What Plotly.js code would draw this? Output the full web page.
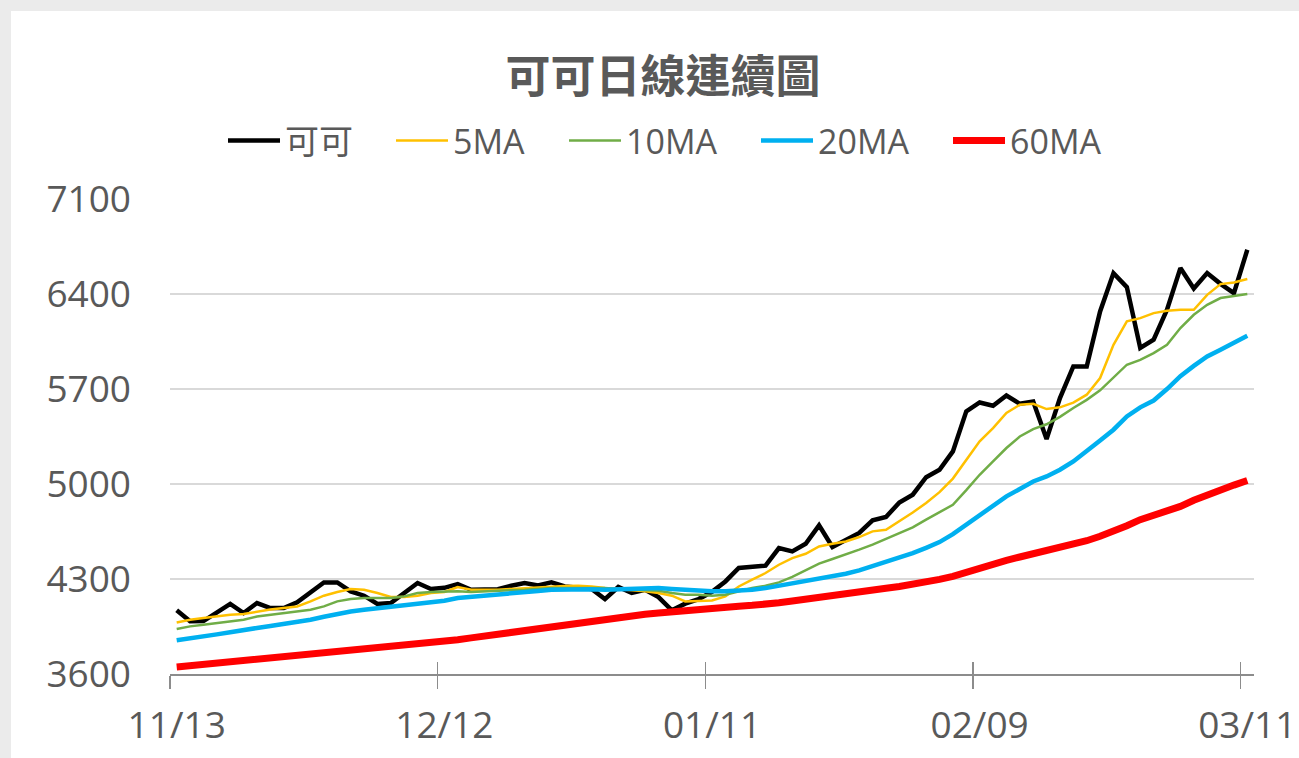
<!DOCTYPE html>
<html>
<head>
<meta charset="utf-8">
<script src="https://cdn.plot.ly/plotly-3.0.1.min.js"></script>
<style>
  html, body { margin: 0; padding: 0; background: #ebebeb; }
  #chart { position: absolute; left: 11px; top: 11px; width: 1288px; height: 747px; background: #ffffff; }
</style>
</head>
<body>
<div id="chart"></div>
<script>
// Trading days (categories)
const dates = [
  '11/13','11/14','11/15','11/16','11/17',
  '11/20','11/21','11/22','11/24',
  '11/27','11/28','11/29','11/30','12/01',
  '12/04','12/05','12/06','12/07','12/08',
  '12/11','12/12','12/13','12/14','12/15',
  '12/18','12/19','12/20','12/21','12/22',
  '12/26','12/27','12/28','12/29',
  '01/02','01/03','01/04','01/05',
  '01/08','01/09','01/10','01/11','01/12',
  '01/16','01/17','01/18','01/19',
  '01/22','01/23','01/24','01/25','01/26',
  '01/29','01/30','01/31','02/01','02/02',
  '02/05','02/06','02/07','02/08','02/09',
  '02/12','02/13','02/14','02/15','02/16',
  '02/20','02/21','02/22','02/23',
  '02/26','02/27','02/28','02/29','03/01',
  '03/04','03/05','03/06','03/07','03/08',
  '03/11'
];

const cocoa = [
  4069,3988,3990,4049,4116,4049,4123,4086,4086,4128,
  4201,4275,4275,4209,4177,4116,4123,4197,4270,4226,
  4235,4263,4221,4223,4225,4250,4270,4253,4275,4245,
  4238,4226,4152,4241,4197,4221,4167,4069,4118,4152,
  4205,4282,4381,4388,4398,4528,4503,4560,4695,4536,
  4584,4639,4732,4757,4864,4921,5050,5105,5240,5535,
  5601,5577,5652,5591,5608,5331,5633,5866,5866,6271,
  6554,6451,6002,6063,6284,6591,6440,6554,6475,6407,
  6726
];

const ma5 = [
  3980,4000,4012,4025,4037,4042,4061,4075,4086,4098,
  4135,4177,4204,4226,4221,4197,4167,4167,4177,4197,
  4204,4241,4221,4221,4221,4227,4233,4240,4245,4248,
  4250,4245,4233,4226,4221,4209,4197,4177,4135,4140,
  4142,4172,4245,4295,4344,4405,4454,4486,4540,4560,
  4577,4609,4651,4663,4724,4790,4860,4940,5040,5179,
  5314,5412,5523,5584,5591,5552,5565,5600,5658,5781,
  6026,6198,6222,6259,6276,6284,6284,6394,6473,6485,
  6510
];

const ma10 = [
  3931,3951,3963,3976,3988,4000,4024,4037,4049,4061,
  4074,4098,4135,4152,4160,4160,4160,4172,4197,4204,
  4209,4209,4204,4210,4216,4218,4221,4227,4233,4233,
  4233,4233,4233,4226,4221,4221,4214,4197,4184,4184,
  4177,4184,4209,4233,4250,4275,4315,4363,4413,4447,
  4479,4516,4553,4594,4639,4680,4737,4795,4847,4955,
  5068,5166,5265,5350,5405,5440,5495,5560,5620,5690,
  5781,5879,5915,5965,6026,6149,6247,6320,6370,6387,
  6400
];

const ma20 = [
  3848,3865,3877,3892,3907,3926,3939,3953,3968,3984,
  4000,4022,4044,4061,4074,4086,4095,4103,4118,4130,
  4140,4160,4170,4180,4189,4197,4204,4212,4221,4224,
  4226,4224,4221,4224,4226,4230,4233,4227,4221,4209,
  4209,4209,4214,4221,4233,4250,4265,4282,4300,4319,
  4339,4363,4393,4422,4454,4490,4530,4572,4630,4700,
  4774,4840,4909,4963,5019,5056,5105,5166,5240,5321,
  5400,5498,5565,5615,5700,5795,5870,5940,5990,6040,
  6092
];

const ma60 = [
  3652,3661,3670,3680,3690,3700,3710,3720,3729,3738,
  3748,3757,3766,3776,3786,3795,3804,3813,3822,3831,
  3840,3853,3866,3880,3895,3910,3926,3940,3954,3968,
  3981,3994,4007,4020,4030,4040,4050,4060,4068,4077,
  4086,4093,4100,4106,4112,4125,4138,4153,4168,4184,
  4196,4208,4220,4232,4245,4260,4275,4297,4319,4350,
  4385,4413,4437,4462,4486,4507,4528,4555,4582,4615,
  4651,4692,4737,4770,4800,4835,4880,4921,4958,4992,
  5026
];

const seriesNames = ['可可','5MA','10MA','20MA','60MA'];
const seriesValues = [cocoa, ma5, ma10, ma20, ma60];
const seriesColors = ['#000000','#FFC000','#70AD47','#00B0F0','#FF0000'];
const seriesWidths = [4.5, 2.5, 2.5, 4.5, 7];
// legend entry positions (left edge of each entry's line, in page px)
const legendLeft = [229, 397, 570, 762, 954];

const legendIds = ['legend','legend2','legend3','legend4','legend5'];

const traces = seriesNames.map((name, k) => ({
  type: 'scatter',
  mode: 'lines',
  name: name,
  x: dates,
  y: seriesValues[k],
  xaxis: k === seriesNames.length - 1 ? 'x2' : 'x',
  legend: legendIds[k],
  line: { color: seriesColors[k], width: seriesWidths[k] },
  hoverinfo: 'x+y+name'
}));

const catRange = [-0.5, dates.length - 0.5];
const textColor = '#595959';
const baseFont = 'Open Sans, Noto Sans CJK TC, sans-serif';
const divLeft = 11, divTop = 11, divW = 1288, divH = 747;

const layout = {
  width: divW,
  height: divH,
  paper_bgcolor: '#ffffff',
  plot_bgcolor: '#ffffff',
  margin: { l: 159, r: 45, t: 188, b: 84 },
  font: { family: baseFont, color: textColor },
  title: {
    text: '可可日線連續圖',
    font: { family: 'Noto Sans CJK TC, sans-serif', size: 45, color: textColor, weight: 'bold' },
    xref: 'container', yref: 'container',
    x: 0.5062, xanchor: 'center',
    y: 0.911, yanchor: 'middle'
  },
  showlegend: true,
  xaxis: {
    type: 'category',
    range: catRange,
    tickmode: 'linear',
    tick0: 0,
    dtick: 20,
    tickson: 'boundaries',
    tickangle: 0,
    ticks: 'outside', ticklen: 13, tickwidth: 1.5, tickcolor: '#8c8c8c',
    ticklabelstandoff: 18,
    tickfont: { family: baseFont, size: 37, color: textColor },
    showgrid: false,
    zeroline: false,
    showline: true,
    linecolor: '#8c8c8c',
    linewidth: 1.5,
    fixedrange: true
  },
  xaxis2: {
    type: 'category',
    overlaying: 'x', anchor: 'y',
    range: catRange,
    tickmode: 'linear',
    tick0: 0,
    dtick: 20,
    tickson: 'boundaries',
    ticks: 'inside', ticklen: 12, tickwidth: 1.5, tickcolor: '#8c8c8c',
    showticklabels: false, showgrid: false, zeroline: false, showline: false,
    fixedrange: true
  },
  yaxis: {
    range: [3600, 7100],
    tickmode: 'linear',
    tick0: 3600,
    dtick: 700,
    ticks: '',
    ticklabelstandoff: 38,
    tickfont: { family: baseFont, size: 37, color: textColor },
    showgrid: true,
    gridcolor: '#d9d9d9',
    gridwidth: 1.5,
    zeroline: false,
    showline: false,
    fixedrange: true
  }
};

legendIds.forEach((id, k) => {
  layout[id] = {
    orientation: 'h',
    xref: 'container', yref: 'container',
    x: (legendLeft[k] - 6 - divLeft) / divW, xanchor: 'left',
    y: 1 - (141 - divTop) / divH, yanchor: 'middle',
    font: { family: baseFont, size: 34, color: textColor },
    itemwidth: 52,
    bgcolor: 'rgba(0,0,0,0)'
  };
});

Plotly.newPlot('chart', traces, layout, { displayModeBar: false, staticPlot: true });
</script>
</body>
</html>
